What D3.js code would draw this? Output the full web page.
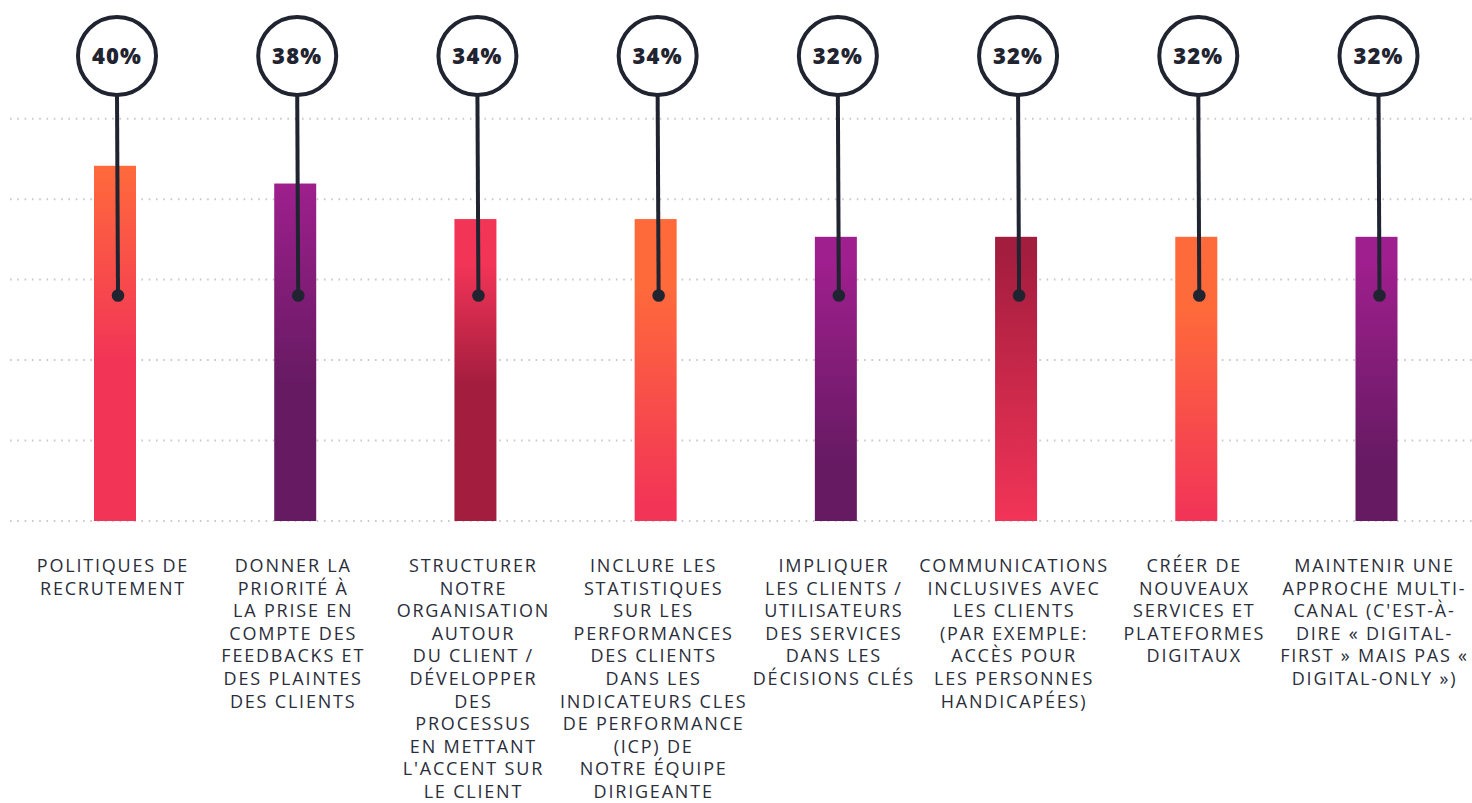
<!DOCTYPE html>
<html>
<head>
<meta charset="utf-8">
<script src="https://cdn.jsdelivr.net/npm/d3@7"></script>
<style>
  html, body { margin: 0; padding: 0; background: #ffffff; }
  svg { display: block; }
</style>
</head>
<body>
<svg id="chart" width="1472" height="803"></svg>
<script>
// Survey priorities: share of respondents per initiative
const categories = [
  "POLITIQUES DE\nRECRUTEMENT",
  "DONNER LA\nPRIORITÉ À\nLA PRISE EN\nCOMPTE DES\nFEEDBACKS ET\nDES PLAINTES\nDES CLIENTS",
  "STRUCTURER\nNOTRE\nORGANISATION\nAUTOUR\nDU CLIENT /\nDÉVELOPPER\nDES\nPROCESSUS\nEN METTANT\nL'ACCENT SUR\nLE CLIENT",
  "INCLURE LES\nSTATISTIQUES\nSUR LES\nPERFORMANCES\nDES CLIENTS\nDANS LES\nINDICATEURS CLES\nDE PERFORMANCE\n(ICP) DE\nNOTRE ÉQUIPE\nDIRIGEANTE",
  "IMPLIQUER\nLES CLIENTS /\nUTILISATEURS\nDES SERVICES\nDANS LES\nDÉCISIONS CLÉS",
  "COMMUNICATIONS\nINCLUSIVES AVEC\nLES CLIENTS\n(PAR EXEMPLE:\nACCÈS POUR\nLES PERSONNES\nHANDICAPÉES)",
  "CRÉER DE\nNOUVEAUX\nSERVICES ET\nPLATEFORMES\nDIGITAUX",
  "MAINTENIR UNE\nAPPROCHE MULTI-\nCANAL (C'EST-À-\nDIRE « DIGITAL-\nFIRST » MAIS PAS «\nDIGITAL-ONLY »)"
];
const values = [40, 38, 34, 34, 32, 32, 32, 32];
const valueLabels = ["40%", "38%", "34%", "34%", "32%", "32%", "32%", "32%"];

// Bar fills cycle through three gradient families
const ORANGE = "#ff6a3b", PINK = "#f23457", PURPLE = "#9e1f8d", PLUM = "#661a62", CRIMSON = "#a31d3e";
const gradientStops = [
  [[0, ORANGE], [0.55, PINK], [1, PINK]],
  [[0, PURPLE], [0.6, PLUM], [1, PLUM]],
  [[0, PINK], [0.15, PINK], [0.55, CRIMSON], [1, CRIMSON]],
  [[0, ORANGE], [0.22, ORANGE], [0.95, PINK], [1, PINK]],
  [[0, PURPLE], [0.1, PURPLE], [0.8, PLUM], [1, PLUM]],
  [[0, CRIMSON], [0.05, CRIMSON], [1, PINK]],
  [[0, ORANGE], [0.25, ORANGE], [0.98, PINK], [1, PINK]],
  [[0, PURPLE], [0.1, PURPLE], [0.8, PLUM], [1, PLUM]]
];

const W = 1472, H = 803;
const svg = d3.select("#chart");
const INK = "#1f2430";

const x = d3.scalePoint().domain(d3.range(categories.length)).range([115, 1376.5]);
const y = d3.scaleLinear().domain([0, 45.3]).range([521, 118.7]);
const barW = 42;

// gradients
const defs = svg.append("defs");
gradientStops.forEach((stops, i) => {
  const g = defs.append("linearGradient")
    .attr("id", "bar-grad-" + i)
    .attr("x1", 0).attr("y1", 0).attr("x2", 0).attr("y2", 1);
  stops.forEach(([o, c]) => g.append("stop").attr("offset", o).attr("stop-color", c));
});

// dotted horizontal grid
const gridVals = d3.range(0, 6).map(k => k * y.domain()[1] / 5);
svg.append("g").selectAll("line").data(gridVals).join("line")
  .attr("x1", 10).attr("x2", W)
  .attr("y1", d => y(d)).attr("y2", d => y(d))
  .attr("stroke", "#c9c9c9")
  .attr("stroke-width", 2)
  .attr("stroke-dasharray", "1.6 5.7");

// bars
svg.append("g").selectAll("rect").data(values).join("rect")
  .attr("x", (d, i) => x(i) - barW / 2)
  .attr("y", d => y(d))
  .attr("width", barW)
  .attr("height", d => y(0) - y(d))
  .attr("fill", (d, i) => `url(#bar-grad-${i})`);

// pins: bubble above each bar, stem down into the bar
const bubbleY = 56, bubbleR = 39, pinValue = 25.4;
const pins = svg.append("g");
pins.selectAll("line").data(values).join("line")
  .attr("x1", (d, i) => x(i) + 2).attr("x2", (d, i) => x(i) + 3)
  .attr("y1", bubbleY + bubbleR).attr("y2", y(pinValue))
  .attr("stroke", INK).attr("stroke-width", 4);
pins.selectAll("circle.dot").data(values).join("circle")
  .attr("class", "dot")
  .attr("cx", (d, i) => x(i) + 3).attr("cy", y(pinValue))
  .attr("r", 6.3).attr("fill", INK);
pins.selectAll("circle.bubble").data(values).join("circle")
  .attr("class", "bubble")
  .attr("cx", (d, i) => x(i) + 2).attr("cy", bubbleY)
  .attr("r", bubbleR)
  .attr("fill", "#ffffff").attr("stroke", INK).attr("stroke-width", 4);
pins.selectAll("text").data(valueLabels).join("text")
  .attr("x", (d, i) => x(i) + 2).attr("y", bubbleY + 8)
  .attr("text-anchor", "middle")
  .attr("font-family", "'Open Sans', sans-serif")
  .attr("font-weight", 800)
  .attr("font-size", 22)
  .attr("letter-spacing", 1.2)
  .attr("fill", INK)
  .text(d => d);

// category labels
const lab = svg.append("g")
  .attr("font-family", "'Open Sans', sans-serif")
  .attr("font-size", 18)
  .attr("font-weight", 500)
  .attr("letter-spacing", 1.8)
  .attr("fill", "#2a2e3a")
  .attr("text-anchor", "middle");
categories.forEach((c, i) => {
  const t = lab.append("text").attr("x", x(i) - 2).attr("y", 572);
  c.split("\n").forEach((line, k) => {
    t.append("tspan").attr("x", x(i) - 2).attr("dy", k === 0 ? 0 : 22.6).text(line);
  });
});
</script>
</body>
</html>
